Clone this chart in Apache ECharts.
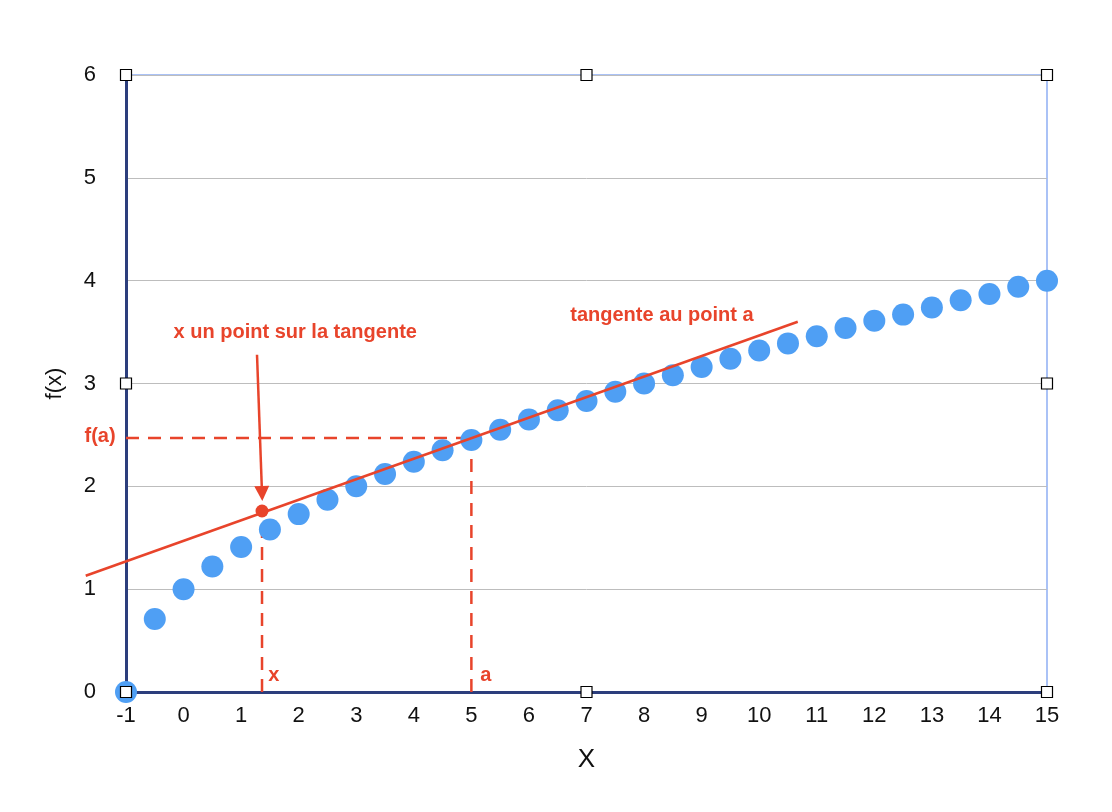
<!DOCTYPE html>
<html><head><meta charset="utf-8">
<script src="https://cdn.jsdelivr.net/npm/echarts@6/dist/echarts.min.js"></script>
<style>html,body{margin:0;padding:0;background:#fff}#c{width:1112px;height:812px}</style>
</head><body><div id="c"></div>
<script>
// Data
const xValues = [-1,-0.5,0,0.5,1,1.5,2,2.5,3,3.5,4,4.5,5,5.5,6,6.5,7,7.5,8,8.5,9,9.5,10,10.5,11,11.5,12,12.5,13,13.5,14,14.5,15];
const yValues = [0,0.71,1,1.22,1.41,1.58,1.73,1.87,2,2.12,2.24,2.35,2.45,2.55,2.65,2.74,2.83,2.92,3,3.08,3.16,3.24,3.32,3.39,3.46,3.54,3.61,3.67,3.74,3.81,3.87,3.94,4];
const tangentX = [-1.7, 10.67];
const tangentY = [1.13, 3.60];
const pointA = [5, 2.47];
const pointX = [1.363, 1.76];
const arrowFrom = [1.276, 3.28];
const arrowTo = [1.363, 1.93];
const annotations = [
  {text: 'x un point sur la tangente', x: 1.94, y: 3.5},
  {text: 'tangente au point a', x: 8.31, y: 3.66},
  {text: 'x', x: 1.57, y: 0.16},
  {text: 'a', x: 5.25, y: 0.16},
  {text: 'f(a)', x: -1.45, y: 2.48}
];
const handleX = [-1, 7, 15];
const handleY = [0, 3, 6];

const RED = '#e8442b';
const BLUE = '#4f9ff4';
const FONT = '"Liberation Sans", Arial, Helvetica, sans-serif';

const handles = [];
handleX.forEach(x => handleY.forEach(y => {
  if (!(x === 7 && y === 3)) handles.push([x, y]);
}));

const chart = echarts.init(document.getElementById('c'));
chart.setOption({
  animation: false,
  textStyle: {fontFamily: FONT},
  grid: {left: 126, right: 65, top: 75, bottom: 120, show: true, borderColor: '#8eaef4', borderWidth: 1.5},
  xAxis: {
    type: 'value', min: -1, max: 15, interval: 1,
    name: 'X', nameLocation: 'middle', nameGap: 55,
    nameTextStyle: {fontSize: 26, color: '#111', fontFamily: FONT},
    axisLine: {show: true, onZero: false, lineStyle: {color: '#2c3e7c', width: 3}},
    axisTick: {show: false},
    axisLabel: {fontSize: 22, color: '#111', margin: 13, fontFamily: FONT},
    splitLine: {show: false}
  },
  yAxis: {
    type: 'value', min: 0, max: 6, interval: 1,
    name: 'f(x)', nameLocation: 'middle', nameGap: 60, nameRotate: 90,
    nameTextStyle: {fontSize: 22, color: '#111', fontFamily: FONT},
    axisLine: {show: true, onZero: false, lineStyle: {color: '#2c3e7c', width: 3}},
    axisTick: {show: false},
    axisLabel: {fontSize: 22, color: '#111', margin: 30, fontFamily: FONT},
    splitLine: {show: true, lineStyle: {color: '#bdbdbd', width: 1}}
  },
  series: [
    {
      type: 'line', name: 'fa-h', data: [[-1, pointA[1]], [pointA[0], pointA[1]]],
      symbol: 'none', lineStyle: {color: RED, width: 2.5, type: [13, 9]}, z: 3
    },
    {
      type: 'line', name: 'a-v', data: [[pointA[0], 0], [pointA[0], pointA[1]]],
      symbol: 'none', lineStyle: {color: RED, width: 2.5, type: [13, 9]}, z: 3
    },
    {
      type: 'line', name: 'x-v', data: [[pointX[0], 0], [pointX[0], pointX[1]]],
      symbol: 'none', lineStyle: {color: RED, width: 2.5, type: [13, 9]}, z: 3
    },
    {
      type: 'scatter', name: 'f', data: xValues.map((x, i) => [x, yValues[i]]),
      symbolSize: 22, itemStyle: {color: BLUE, opacity: 1}, clip: false, z: 4
    },
    {
      type: 'lines', coordinateSystem: 'cartesian2d', z: 5, clip: false,
      symbol: ['none', 'none'],
      lineStyle: {color: RED, width: 2.5, opacity: 1},
      data: [{coords: tangentX.map((x, i) => [x, tangentY[i]])}]
    },
    {
      type: 'scatter', name: 'px', data: [pointX], symbolSize: 13,
      itemStyle: {color: RED, opacity: 1}, z: 6
    },
    {
      type: 'lines', coordinateSystem: 'cartesian2d', z: 6, clip: false,
      symbol: ['none', 'triangle'], symbolSize: [14, 15],
      lineStyle: {color: RED, width: 2.5, opacity: 1},
      data: [{coords: [arrowFrom, arrowTo]}]
    },
    {
      type: 'scatter', name: 'labels', symbolSize: 0, clip: false, z: 7,
      itemStyle: {opacity: 1},
      data: annotations.map(a => ({value: [a.x, a.y], label: {formatter: a.text}})),
      label: {show: true, position: 'inside', color: RED, fontWeight: 'bold', fontSize: 20, fontFamily: FONT}
    },
    {
      type: 'scatter', name: 'handles', data: handles, symbol: 'rect', symbolSize: 11,
      clip: false, z: 10,
      itemStyle: {color: '#fff', borderColor: '#000', borderWidth: 1.2, opacity: 1}
    }
  ]
});
</script>
</body></html>
